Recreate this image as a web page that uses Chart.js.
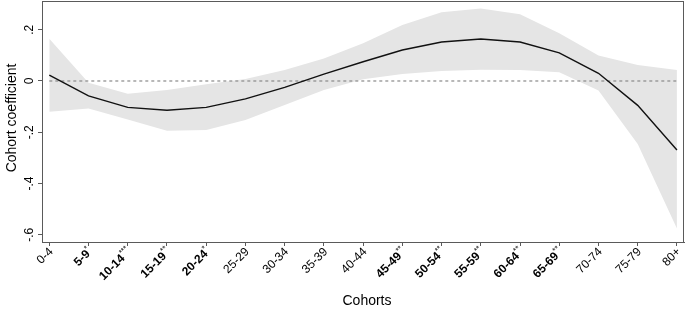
<!DOCTYPE html>
<html>
<head>
<meta charset="utf-8">
<script src="https://cdn.jsdelivr.net/npm/chart.js@4.4.1/dist/chart.umd.min.js"></script>
<style>
  html, body { margin: 0; padding: 0; background: #fff; }
  #wrap { width: 685px; height: 309px; }
</style>
</head>
<body>
<div id="wrap"><canvas id="cohorts"></canvas></div>
<script>
// cohort labels and significance stars
const cohorts = ["0-4", "5-9", "10-14", "15-19", "20-24", "25-29", "30-34", "35-39", "40-44",
  "45-49", "50-54", "55-59", "60-64", "65-69", "70-74", "75-79", "80+"];
const stars = ["", "*", "***", "**", "*", "", "", "", "", "**", "**", "**", "**", "**", "", "", ""];

// estimates and 95% band
const coef = [0.023, -0.058, -0.103, -0.114, -0.103, -0.070, -0.025, 0.027, 0.075,
  0.121, 0.152, 0.164, 0.152, 0.110, 0.030, -0.095, -0.269];
const upper = [0.165, -0.007, -0.050, -0.035, -0.013, 0.008, 0.043, 0.088, 0.147,
  0.218, 0.268, 0.283, 0.260, 0.186, 0.099, 0.062, 0.043];
const lower = [-0.120, -0.107, -0.150, -0.194, -0.191, -0.152, -0.094, -0.035, 0.007,
  0.027, 0.039, 0.044, 0.043, 0.034, -0.037, -0.246, -0.575];

const yTicks = [0.2, 0, -0.2, -0.4, -0.6];
const yTickLabels = [".2", "0", "-.2", "-.4", "-.6"];

const pts = arr => arr.map((v, i) => ({x: i, y: v}));

//custom labels, frame and titles
const stataText = {
  id: 'stataText',
  afterDraw(chart) {
    const {ctx, chartArea: {top, right, bottom, left}, scales: {x, y}} = chart;
    ctx.save();
    // plot frame
    ctx.strokeStyle = '#5a5a5a';
    ctx.lineWidth = 1;
    ctx.strokeRect(left + 0.5, top + 0.5, right - left - 1, bottom - top);

    ctx.fillStyle = '#000';
    // x labels, 45 degrees
    cohorts.forEach((lab, i) => {
      const px = x.getPixelForValue(i);
      const bold = stars[i] !== '';
      ctx.save();
      ctx.translate(px + 2, bottom + 8);
      ctx.rotate(-Math.PI / 4);
      ctx.textBaseline = 'middle';
      ctx.font = '8px Arial, "Liberation Sans"';
      const sw = ctx.measureText(stars[i]).width;
      if (bold) {
        ctx.textAlign = 'left';
        ctx.fillText(stars[i], -sw, -4);
      }
      ctx.textAlign = 'right';
      ctx.font = (bold ? 'bold ' : '') + '12px Arial, "Liberation Sans"';
      ctx.fillText(lab, -sw, 0);
      ctx.restore();
    });

    // y labels, vertical
    ctx.font = '12px Arial, "Liberation Sans"';
    yTicks.forEach((v, i) => {
      const py = y.getPixelForValue(v);
      ctx.save();
      ctx.translate(33, py);
      ctx.rotate(-Math.PI / 2);
      ctx.textAlign = 'center';
      ctx.textBaseline = 'alphabetic';
      ctx.fillText(yTickLabels[i], 0, 0);
      ctx.restore();
    });

    // axis titles
    ctx.font = '14px Arial, "Liberation Sans"';
    ctx.textAlign = 'center';
    ctx.textBaseline = 'alphabetic';
    ctx.fillText('Cohorts', (left + right) / 2 + 4, 305);
    ctx.save();
    ctx.translate(16, 118);
    ctx.rotate(-Math.PI / 2);
    ctx.fillText('Cohort coefficient', 0, 0);
    ctx.restore();
    ctx.restore();
  }
};

const data = {
  datasets: [
    {label: 'zero', data: [{x: 0, y: 0}, {x: cohorts.length - 1, y: 0}], borderColor: '#8a8a8a',
      borderWidth: 1.2, borderDash: [3, 3], pointRadius: 0, fill: false, order: 1},
    {label: 'coef', data: pts(coef), borderColor: '#111', borderWidth: 1.4, pointRadius: 0,
      fill: false, tension: 0, order: 0},
    {label: 'upper', data: pts(upper), borderWidth: 0, borderColor: 'transparent', pointRadius: 0,
      backgroundColor: '#e5e5e5', fill: '+1', order: 3},
    {label: 'lower', data: pts(lower), borderWidth: 0, borderColor: 'transparent', pointRadius: 0,
      fill: false, order: 3}
  ]
};

const config = {
  type: 'line',
  data: data,
  options: {
    responsive: true,
    maintainAspectRatio: false,
    animation: false,
    layout: {padding: {left: 38, right: 1, top: 1, bottom: 63}},
    plugins: {legend: {display: false}, tooltip: {enabled: false}},
    scales: {
      x: {
        type: 'linear', min: -0.186, max: 16.18,
        afterBuildTicks: s => { s.ticks = cohorts.map((c, i) => ({value: i})); },
        ticks: {display: false},
        grid: {drawOnChartArea: false, drawTicks: true, tickLength: 4, color: '#5a5a5a'},
        border: {display: true, color: '#5a5a5a', width: 1}
      },
      y: {
        min: -0.628, max: 0.312,
        afterBuildTicks: s => { s.ticks = yTicks.map(v => ({value: v})); },
        ticks: {display: false},
        grid: {drawOnChartArea: false, drawTicks: true, tickLength: 4, color: '#5a5a5a'},
        border: {display: true, color: '#5a5a5a', width: 1}
      }
    }
  },
  plugins: [stataText]
};

const cohort_chart = new Chart(document.getElementById("cohorts"), config);
</script>
</body>
</html>
